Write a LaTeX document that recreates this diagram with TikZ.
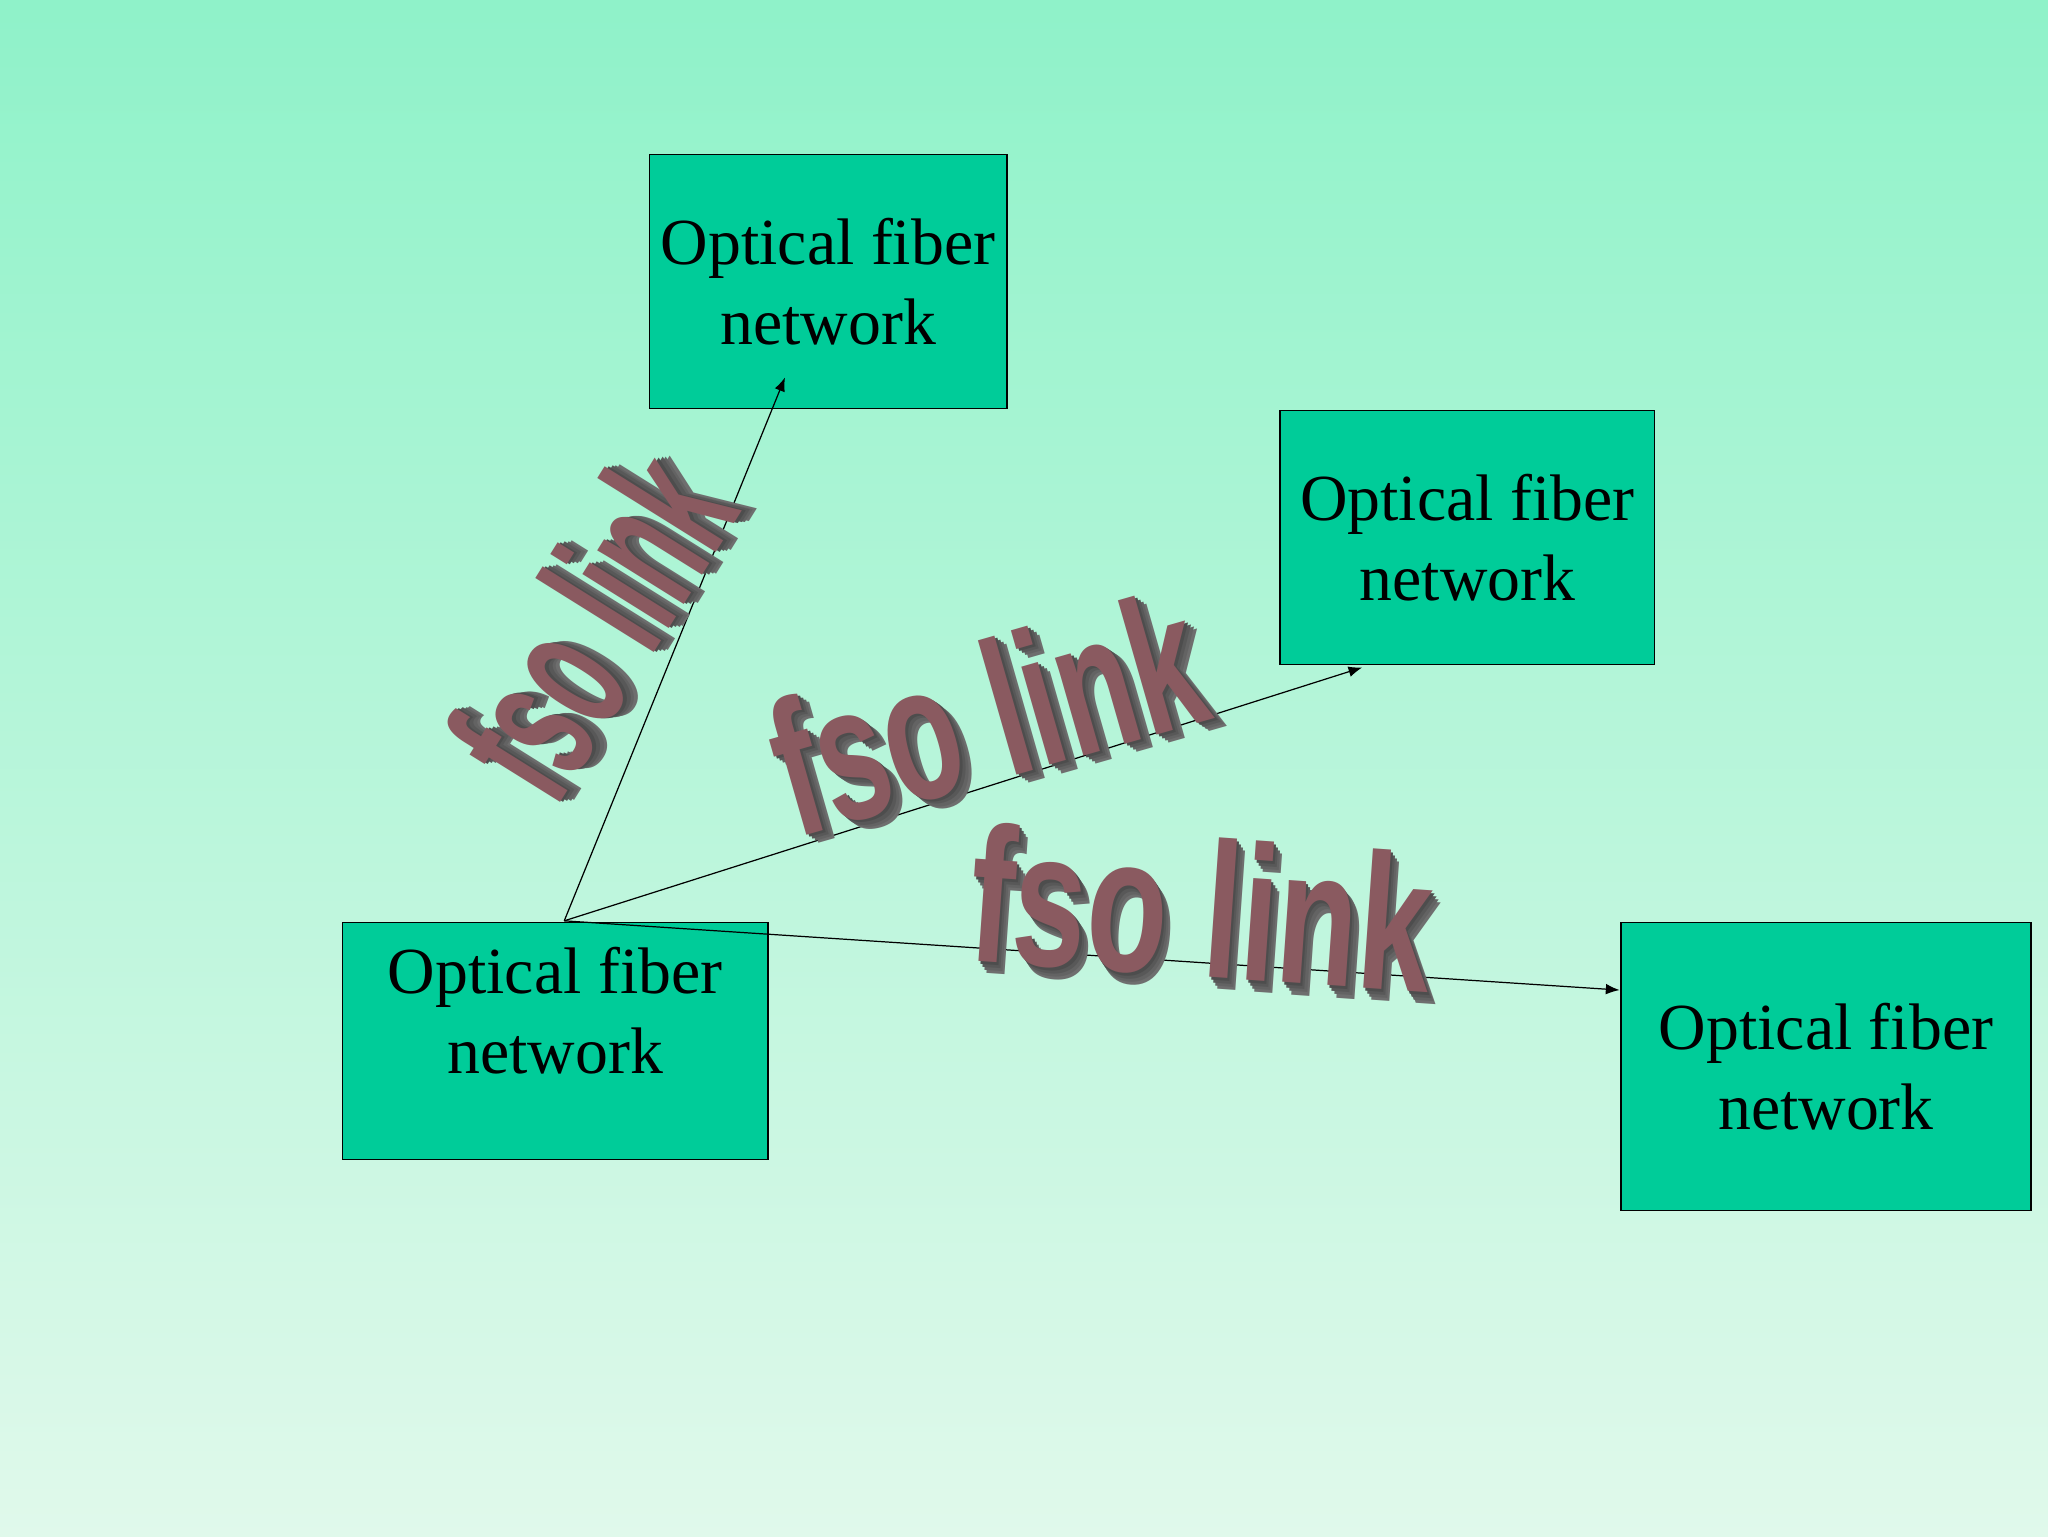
\documentclass[tikz,border=0pt]{standalone}
\usepackage{fontspec}
\usetikzlibrary{arrows.meta}
\setmainfont{Liberation Serif}
\newfontfamily\wordart{Liberation Sans}
\begin{document}
\begin{tikzpicture}[x=0.3mm,y=-0.3mm,
  box/.style={draw=black,line width=0.8pt,fill=boxgreen,align=center,inner sep=0pt,
    font=\fontsize{43}{52}\selectfont},
  link/.style={-{Latex[length=9pt,width=7pt]},line width=0.8pt},
  fso/.style={font=\wordart\bfseries\fontsize{120}{120}\selectfont,transform shape,yscale=1.05}]
\definecolor{boxgreen}{HTML}{00CC99}
\definecolor{bgtop}{HTML}{8FF2C9}
\definecolor{bgbot}{HTML}{E0F9EB}
\definecolor{wfront}{HTML}{8A5A60}
\definecolor{wside}{HTML}{6E6E6E}
\shade[top color=bgtop,bottom color=bgbot] (0,0) rectangle (1568,1176);
\useasboundingbox (0,0) rectangle (1568,1176);
\node[box,minimum width=274*0.3mm,minimum height=195*0.3mm] (t) at (634,215.5) {Optical fiber\\network};
\node[box,minimum width=287*0.3mm,minimum height=195*0.3mm] (m) at (1123.5,411.5) {Optical fiber\\network};
\node[box,minimum width=326*0.3mm,minimum height=182*0.3mm] (s) at (425,797) {Optical fiber\\network\\[-12pt]};
\node[box,minimum width=314*0.3mm,minimum height=221*0.3mm] (r) at (1398,816.5) {Optical fiber\\network};
\coordinate (o) at (432,705);
\coordinate (a1) at (601,289);
\coordinate (a2) at (1043,511);
\coordinate (a3) at (1240,758);
\draw[link] (o) -- (a1);
\draw[link] (o) -- (a2);
\draw[link] (o) -- (a3);
\foreach \cx/\cy/\ang/\sx in {452/478/58/0.55, 755/545/16/0.68, 920/695/-4/0.72}{
  \begin{scope}[shift={(\cx,\cy)},rotate=\ang]
    \foreach \k in {4,3,2,1}{
      \node[fso,xscale=\sx,text=wside!\the\numexpr 60+10*\k\relax!black] at (\k*1.8,\k*2.2) {fso link};
    }
    \node[fso,xscale=\sx,text=wfront] (fr) at (0,0) {fso link};
  \end{scope}
}
\end{tikzpicture}
\end{document}
